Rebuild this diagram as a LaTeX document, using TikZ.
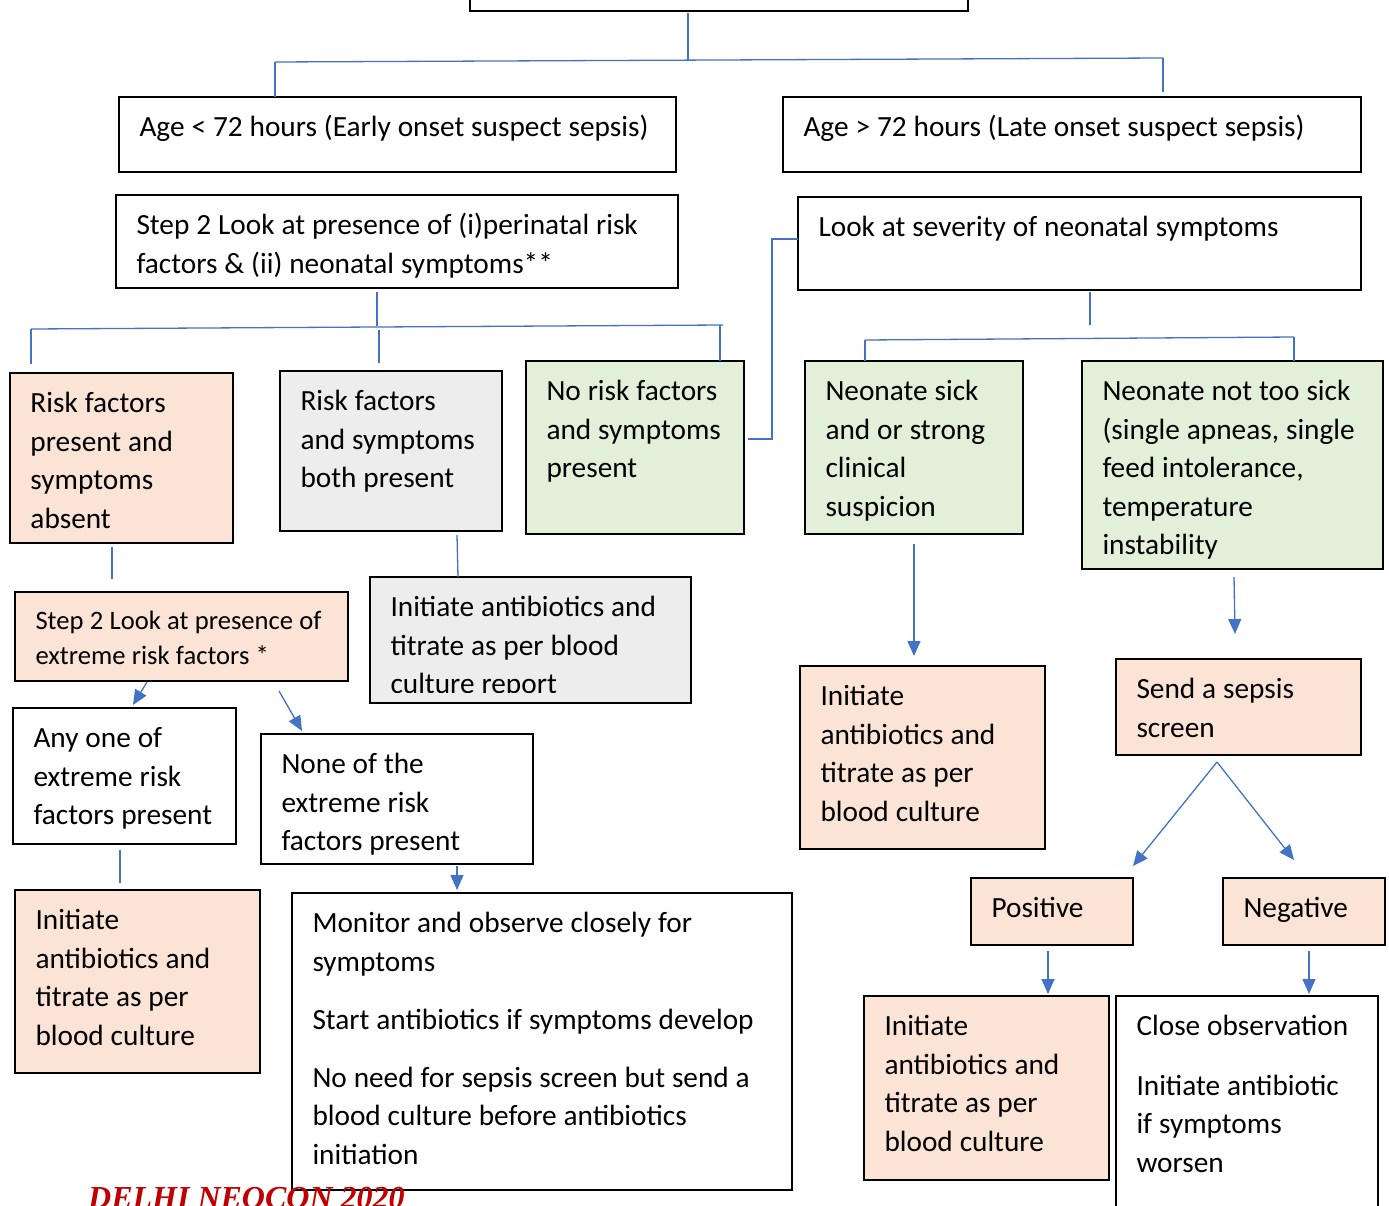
\documentclass[tikz,border=0pt]{standalone}
\usepackage{fontspec}
\setmainfont{Carlito}
\newfontfamily\stampfont{Liberation Serif}
\usetikzlibrary{arrows.meta,calc}

\definecolor{peach}{HTML}{FBE4D5}
\definecolor{lgray}{HTML}{EDEDED}
\definecolor{lgreen}{HTML}{E2EFD9}
\definecolor{linkblue}{HTML}{4472C4}
\definecolor{stampred}{HTML}{C00000}

\tikzset{
  box/.style={draw=black, line width=1.4pt, inner sep=0pt, outer sep=0pt},
  txt/.style={anchor=base west, inner sep=0pt, outer sep=0pt, text width=600pt, align=left,
              font=\fontsize{29.3}{38.6}\selectfont,
              execute at begin node={\spaceskip=0.236em\relax}},
  smalltxt/.style={txt, font=\fontsize{26.6}{35.1}\selectfont},
  link/.style={draw=linkblue, line width=1.3pt},
  arrow/.style={link, -{Triangle[length=15pt,width=13pt]}},
}

% box: name, x1, y1, x2, y2, fill
\newcommand\flowbox[6]{%
  \node[box, fill=#6, minimum width={(#4)-(#2)}, minimum height={(#5)-(#3)}]
    (#1) at ({((#2)+(#4))/2},{((#3)+(#5))/2}) {};}
% text inside a box: [style], box name, text
\newcommand\boxtext[3][txt]{%
  \node[#1] (#2-text) at ($(#2.north west)+(20.5,39.5)$) {#3};}

\begin{document}
\begin{tikzpicture}[x=1pt,y=-1pt]
\useasboundingbox (0,0) rectangle (1389,1206);

% ---------- boxes ----------
\flowbox{root}{470}{-30}{968}{11}{white}
\flowbox{A1}{119}{97}{676}{172}{white}
\flowbox{B1}{783}{97}{1361}{172}{white}
\flowbox{A2}{116}{195}{678}{288}{white}
\flowbox{B2}{798}{197}{1361}{290}{white}
\flowbox{L1}{10}{373}{233}{543}{peach}
\flowbox{L2}{280}{371}{502}{531}{lgray}
\flowbox{L3}{526}{361}{744}{534}{lgreen}
\flowbox{R1}{805}{361}{1023}{534}{lgreen}
\flowbox{R2}{1082}{361}{1383}{569}{lgreen}
\flowbox{L4}{15}{592}{348}{681}{peach}
\flowbox{L5}{370}{577}{691}{703}{lgray}
\flowbox{L6}{13}{708}{236}{844}{white}
\flowbox{L7}{261}{734}{533}{864}{white}
\flowbox{L8}{15}{890}{260}{1073}{peach}
\flowbox{L9}{292}{893}{792}{1190}{white}
\flowbox{R3}{800}{666}{1045}{849}{peach}
\flowbox{R4}{1116}{659}{1361}{755}{peach}
\flowbox{R5}{971}{878}{1133}{945}{peach}
\flowbox{R6}{1223}{878}{1385}{945}{peach}
\flowbox{R7}{864}{996}{1109}{1180}{peach}
\flowbox{R8}{1116}{996}{1378}{1240}{white}

% ---------- texts ----------
\boxtext{A1}{Age < 72 hours (Early onset suspect sepsis)}
\boxtext{B1}{Age > 72 hours (Late onset suspect sepsis)}
\boxtext{A2}{Step 2 Look at presence of (i)perinatal risk\\factors \& (ii) neonatal symptoms**}
\boxtext{B2}{Look at severity of neonatal symptoms}
\boxtext{L1}{Risk factors\\present and\\symptoms\\absent}
\boxtext{L2}{Risk factors\\and symptoms\\both present}
\boxtext{L3}{No risk factors\\and symptoms\\present}
\boxtext{R1}{Neonate sick\\and or strong\\clinical\\suspicion}
\boxtext{R2}{Neonate not too sick\\(single apneas, single\\feed intolerance,\\temperature\\instability}
\boxtext[smalltxt,yshift=2.5pt]{L4}{Step 2 Look at presence of\\extreme risk factors *}
\begin{scope}
  \clip (L5.north west) rectangle ($(L5.south east)+(0,-11)$);
  \boxtext{L5}{Initiate antibiotics and\\titrate as per blood\\culture report}
\end{scope}
\boxtext{L6}{Any one of\\extreme risk\\factors present}
\boxtext{L7}{None of the\\extreme risk\\factors present}
\boxtext{L8}{Initiate\\antibiotics and\\titrate as per\\blood culture}
\boxtext{L9}{Monitor and observe closely for\\symptoms\\[19.5pt]Start antibiotics if symptoms develop\\[19.5pt]No need for sepsis screen but send a\\blood culture before antibiotics\\initiation}
\boxtext{R3}{Initiate\\antibiotics and\\titrate as per\\blood culture}
\boxtext{R4}{Send a sepsis\\screen}
\boxtext{R5}{Positive}
\boxtext{R6}{Negative}
\boxtext{R7}{Initiate\\antibiotics and\\titrate as per\\blood culture}
\boxtext{R8}{Close observation\\[21pt]Initiate antibiotic\\if symptoms\\worsen}

% ---------- connectors ----------
% split below the root box
\coordinate (t0) at (688,13);
\coordinate (tl) at (275,62);
\coordinate (tr) at (1163,58);
\draw[link] (t0) -- (688,59.8);
\draw[link] (tl) -- (tr);
\draw[link] (tl) -- (tl |- A1.north);
\draw[link] (tr) -- ($(tr |- B1.north)+(0,-5)$);

% split below the early-onset step box
\coordinate (a0) at (377,292);
\coordinate (al) at (31,329);
\coordinate (ar) at (723,325);
\draw[link] (a0) -- (377,325.6);
\draw[link] (al) -- (ar);
\draw[link] (al) -- (31,364);
\draw[link] (379,330) -- (379,363);
\draw[link] (720,325.2) -- (L3.north -| 720,0);

% elbow between the late-onset severity box and the green box
\coordinate (e1) at (772,239);
\coordinate (e2) at (772,439);
\draw[link] (B2.west |- e1) -- (e1) -- (e2) -- ($(L3.east |- e2)+(4,0)$);

% split below the severity box
\coordinate (b0) at (1090,292);
\coordinate (bl) at (865,340);
\coordinate (br) at (1294,337);
\draw[link] (b0) -- (1090,325);
\draw[link] (bl) -- (br);
\draw[link] (bl) -- (bl |- R1.north);
\draw[link] (br) -- (br |- R2.north);

% left column links
\draw[link] ($(L1.south)+(-9.5,4)$) -- ($(L4.north -| L1.south)+(-9.5,-13)$);
\draw[link] ($(L2.south)+(66,4)$) -- ($(L5.north)+(-72.5,0)$);
\draw[arrow] ($(L4.south)+(-34.5,1)$) -- ($(L6.north)+(8.5,-3)$);
\draw[arrow] ($(L4.south)+(97.5,10)$) -- ($(L7.north)+(-95,-3)$);
\draw[link] ($(L6.south)+(-4.5,6)$) -- ($(L8.north)+(-17.5,-7)$);
\draw[arrow] ($(L7.south)+(60,2)$) -- ($(L9.north)+(-85,-3)$);

% right column links
\draw[arrow] ($(R1.south)+(0,10)$) -- ($(R3.north)+(-8.5,-10)$);
\draw[arrow] ($(R2.south)+(1.5,8)$) -- ($(R4.north)+(-3.5,-25)$);
\coordinate (s0) at (1217,762);
\draw[arrow] (s0) -- ($(R5.north east)+(0,-12)$);
\draw[arrow] (s0) -- ($(R6.north)+(-10,-18)$);
\draw[arrow] ($(R5.south)+(-4,6)$) -- ($(R7.north)+(61.5,-2)$);
\draw[arrow] ($(R6.south)+(5,6)$) -- ($(R8.north)+(62,-2)$);

% ---------- footer mark ----------
\node[anchor=base west, inner sep=0pt, text=stampred,
      font=\stampfont\bfseries\itshape\fontsize{32}{38}\selectfont] (stamp) at (88,1208) {DELHI NEOCON 2020};
\end{tikzpicture}
\end{document}
